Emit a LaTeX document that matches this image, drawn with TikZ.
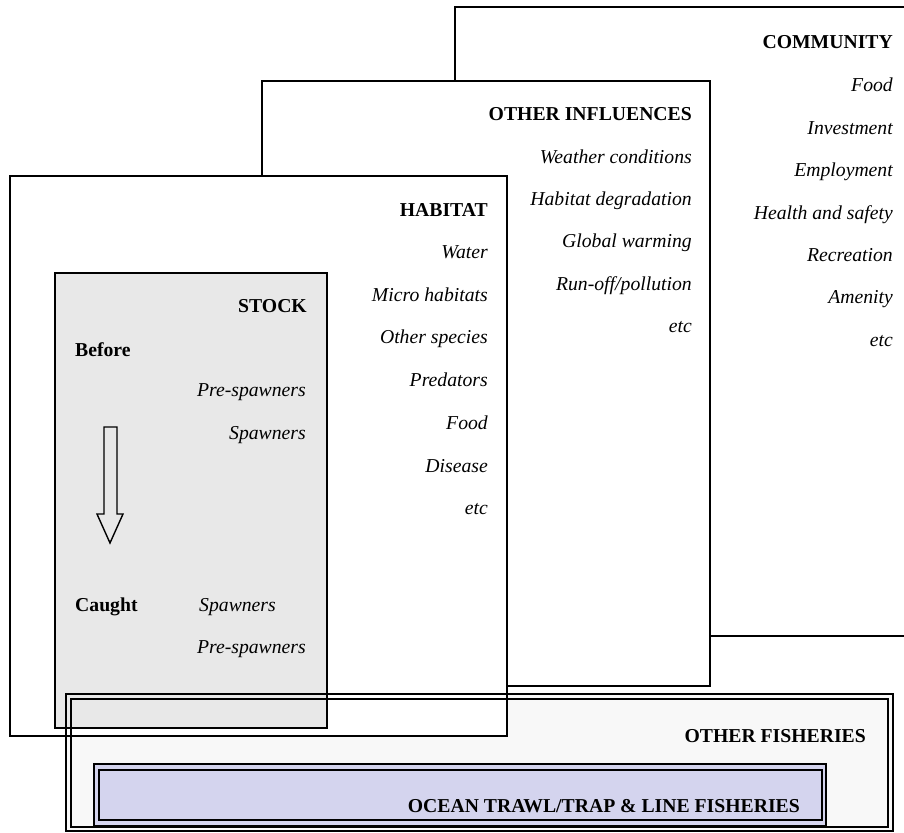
\documentclass[tikz,border=0pt]{standalone}
\usepackage{fontspec}
\setmainfont{Liberation Serif}
\begin{document}
\begin{tikzpicture}[x=1pt,y=-1pt,
  panel/.style={draw=black,line width=1.6pt,fill=white},
  title/.style={anchor=base east,inner sep=0pt,font=\fontsize{19.7}{22}\selectfont\bfseries},
  titlel/.style={anchor=base west,inner sep=0pt,font=\fontsize{19.7}{22}\selectfont\bfseries},
  item/.style={anchor=base east,inner sep=0pt,font=\fontsize{19.7}{22}\selectfont\itshape},
  iteml/.style={anchor=base west,inner sep=0pt,font=\fontsize{19.7}{22}\selectfont\itshape}]
\useasboundingbox (0,0) rectangle (904,832);
\definecolor{stockgray}{HTML}{E8E8E8}
\definecolor{fishfill}{HTML}{F8F8F8}
\definecolor{oceanfill}{HTML}{D4D4EE}

% faint background of the fisheries frame
\fill[fishfill] (66,694) rectangle (893,831);

% stacked panels, back to front
\draw[panel] (455,7) rectangle (906,636);
\draw[panel] (262,81) rectangle (710,686);
\draw[panel] (10,176) rectangle (507,736);
\draw[draw=black,line width=1.6pt,fill=stockgray] (55,273) rectangle (327,728);

% fisheries frame: thick outer rule, thin inner rule
\draw[line width=2.4pt] (66,694) rectangle (893,831);
\draw[line width=1.2pt] (71,699) rectangle (888,827);

% ocean fisheries box
\fill[oceanfill] (94,764) rectangle (826,826);
\draw[line width=2.6pt] (94,764) rectangle (826,826);
\draw[line width=1.6pt] (99,770) rectangle (822,820);

% community column
\node[title] (com) at (893,49) {COMMUNITY};
\node[item] (c1) at (893,92) {Food};
\node[item] (c2) at (893,134) {Investment};
\node[item] (c3) at (893,176) {Employment};
\node[item] (c4) at (893,219) {Health and safety};
\node[item] (c5) at (893,261) {Recreation};
\node[item] (c6) at (893,303) {Amenity};
\node[item] (c7) at (893,346) {etc};

% other influences column
\node[title] (oth) at (692,121) {OTHER INFLUENCES};
\node[item] (o1) at (692,163) {Weather conditions};
\node[item] (o2) at (692,205) {Habitat degradation};
\node[item] (o3) at (692,247) {Global warming};
\node[item] (o4) at (692,290) {Run-off/pollution};
\node[item] (o5) at (692,332) {etc};

% habitat column
\node[title] (hab) at (488,216) {HABITAT};
\node[item] (h1) at (488,258) {Water};
\node[item] (h2) at (488,301) {Micro habitats};
\node[item] (h3) at (488,343) {Other species};
\node[item] (h4) at (488,386) {Predators};
\node[item] (h5) at (488,429) {Food};
\node[item] (h6) at (488,472) {Disease};
\node[item] (h7) at (488,514) {etc};

% stock panel
\node[title] (stk) at (307,312) {STOCK};
\node[titlel] (bef) at (75,356) {Before};
\node[item] (s1) at (306,396) {Pre-spawners};
\node[item] (s2) at (306,439) {Spawners};
\node[titlel] (cau) at (75,611) {Caught};
\node[iteml] (s3) at (199,611) {Spawners};
\node[item] (s4) at (306,653) {Pre-spawners};

% hollow block arrow from before to caught
\draw[line width=1.4pt,fill=stockgray,line join=miter]
  (104,427) -- (117,427) -- (117,514) -- (123,514) -- (110,543)
  -- (97,514) -- (104,514) -- cycle;

% fisheries labels
\node[title] (ofi) at (866,742) {OTHER FISHERIES};
\node[title] (ocn) at (800,812) {OCEAN TRAWL/TRAP \& LINE FISHERIES};
\end{tikzpicture}
\end{document}
